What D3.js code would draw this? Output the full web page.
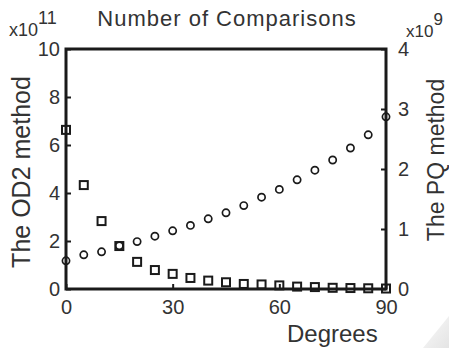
<!DOCTYPE html>
<html>
<head>
<meta charset="utf-8">
<script src="https://cdn.jsdelivr.net/npm/d3@7"></script>
<style>
  body { margin: 0; background: #fff; }
  text { font-family: "Liberation Sans", Arial, sans-serif; fill: #333; }
</style>
</head>
<body>
<div id="chart"></div>
<script>
// degrees on the x axis
const degrees = [0, 5, 10, 15, 20, 25, 30, 35, 40, 45, 50, 55, 60, 65, 70, 75, 80, 85, 90];
// OD2 method, units of 1e11 (left axis)
const od2 = [6.63, 4.33, 2.83, 1.79, 1.13, 0.79, 0.63, 0.46, 0.35, 0.28, 0.21, 0.19, 0.15, 0.10, 0.08, 0.05, 0.04, 0.03, 0.02];
// PQ method, units of 1e9 (right axis)
const pq = [0.47, 0.57, 0.62, 0.72, 0.79, 0.88, 0.97, 1.06, 1.17, 1.27, 1.39, 1.53, 1.66, 1.82, 1.98, 2.15, 2.35, 2.57, 2.87];
const xTicks = [0, 30, 60, 90];
const leftTicks = [0, 2, 4, 6, 8, 10];
const rightTicks = [0, 1, 2, 3, 4];

const W = 449, H = 348;
const margin = {top: 49, right: 63, bottom: 59, left: 66};
const width = W - margin.left - margin.right, height = H - margin.top - margin.bottom;

const svg = d3.select('#chart').append('svg')
    .attr('width', W).attr('height', H);

// faint page curl in the corner
const grad = svg.append('defs').append('linearGradient').attr('id', 'curl')
    .attr('x1', 0).attr('y1', 0).attr('x2', 1).attr('y2', 1);
grad.append('stop').attr('offset', 0).attr('stop-color', '#fafafa');
grad.append('stop').attr('offset', 1).attr('stop-color', '#e4e4e4');
svg.append('path')
    .attr('d', `M${W},${H - 32} L${W},${H} L${W - 26},${H} Z`)
    .attr('fill', 'url(#curl)');

const g = svg.append('g').attr('transform', `translate(${margin.left},${margin.top})`);

const x = d3.scaleLinear().domain([0, 90]).range([0, width]);
const yL = d3.scaleLinear().domain([0, 10]).range([height, 0]);
const yR = d3.scaleLinear().domain([0, 4]).range([height, 0]);

function styleAxis(sel) {
    sel.select('.domain').remove();
    sel.selectAll('.tick line').attr('stroke', '#1a1a1a').attr('stroke-width', 2);
    sel.selectAll('.tick text').style('font-size', '20px').attr('fill', '#333');
}

g.append('g').attr('transform', `translate(0,${height})`)
    .call(d3.axisBottom(x).tickValues(xTicks).tickSize(-5).tickPadding(11))
    .call(styleAxis);
g.append('g')
    .call(d3.axisLeft(yL).tickValues(leftTicks).tickSize(-5).tickPadding(6))
    .call(styleAxis);
g.append('g').attr('transform', `translate(${width},0)`)
    .call(d3.axisRight(yR).tickValues(rightTicks).tickFormat(d3.format('d')).tickSize(-5).tickPadding(12))
    .call(styleAxis);

// box
g.append('rect')
    .attr('x', 0).attr('y', 0).attr('width', width).attr('height', height)
    .attr('fill', 'none').attr('stroke', '#1a1a1a').attr('stroke-width', 3);

// circles (PQ)
g.selectAll('.pq').data(degrees).enter().append('circle')
    .attr('class', 'pq')
    .attr('cx', (d, i) => x(d))
    .attr('cy', (d, i) => yR(pq[i]))
    .attr('r', 3.6)
    .attr('fill', 'none').attr('stroke', '#1a1a1a').attr('stroke-width', 1.7);

// squares (OD2)
const s = 8;
g.selectAll('.od2').data(degrees).enter().append('rect')
    .attr('class', 'od2')
    .attr('x', (d, i) => x(d) - s / 2)
    .attr('y', (d, i) => yL(od2[i]) - s / 2)
    .attr('width', s).attr('height', s)
    .attr('fill', 'none').attr('stroke', '#1a1a1a').attr('stroke-width', 2);

// titles
svg.append('text').attr('x', 227).attr('y', 26).attr('text-anchor', 'middle')
    .style('font-size', '22px').style('letter-spacing', '1px').text('Number of Comparisons');
svg.append('text').attr('x', 287).attr('y', 342)
    .style('font-size', '24px').text('Degrees');
svg.append('text').attr('transform', 'translate(30,172) rotate(-90)').attr('text-anchor', 'middle')
    .style('font-size', '25px').text('The OD2 method');
svg.append('text').attr('transform', 'translate(444,160) rotate(-90)').attr('text-anchor', 'middle')
    .style('font-size', '23px').text('The PQ method');

// exponents
const e1 = svg.append('text').attr('x', 9).attr('y', 36).style('font-size', '18px');
e1.append('tspan').text('x10');
e1.append('tspan').attr('dy', -12).text('11');
const e2 = svg.append('text').attr('x', 406).attr('y', 37).style('font-size', '17px');
e2.append('tspan').text('x10');
e2.append('tspan').attr('dy', -12).text('9');
</script>
</body>
</html>
